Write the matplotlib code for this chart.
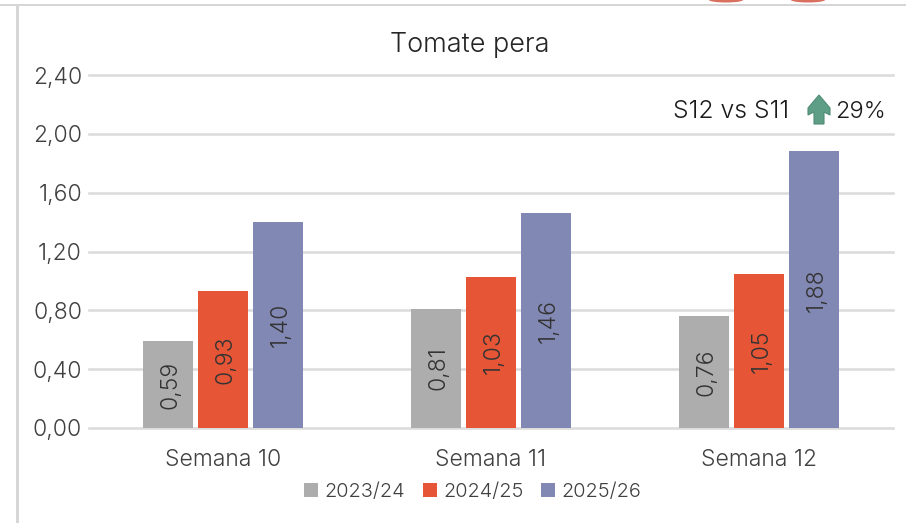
import matplotlib
matplotlib.use("Agg")
import matplotlib.pyplot as plt
import numpy as np
from matplotlib.patches import Polygon, Rectangle, Ellipse

plt.rcParams['font.family'] = ['Inter', 'DejaVu Sans']
plt.rcParams['font.weight'] = 300

weeks = ["Semana 10", "Semana 11", "Semana 12"]
s2324 = [0.59, 0.81, 0.76]
s2425 = [0.93, 1.03, 1.05]
s2526 = [1.40, 1.46, 1.88]
seasons = ["2023/24", "2024/25", "2025/26"]
colors = ["#ADADAD", "#E65535", "#8288B4"]
yticks = [0, 0.4, 0.8, 1.2, 1.6, 2.0, 2.4]

W, H = 906, 523
fig = plt.figure(figsize=(W / 100, H / 100), dpi=100)
ax = fig.add_axes([89 / W, 1 - 428 / H, 804 / W, 353 / H])

x = np.arange(len(weeks))
bw = 50 / 268
step = 55 / 268
for i, vals in enumerate([s2324, s2425, s2526]):
    bars = ax.bar(x + (i - 1) * step, vals, bw, color=colors[i], label=seasons[i], zorder=3)
    for b, v in zip(bars, vals):
        ax.annotate(f"{v:.2f}".replace(".", ","), (b.get_x() + b.get_width() / 2, v / 2),
                    xytext=(2, 0), textcoords="offset points",
                    rotation=90, ha="center", va="center", fontsize=16.5, color="#333333", zorder=4)

ax.set_xlim(-0.5, 2.5)
ax.set_ylim(0, 2.4)
ax.set_yticks(yticks)
ax.set_yticklabels([f"{t:.2f}".replace(".", ",") for t in yticks], fontsize=16.5, color="#404040")
ax.set_xticks(x)
ax.set_xticklabels(weeks, fontsize=16.5, color="#404040")
ax.tick_params(length=0)
ax.tick_params(axis="x", pad=15)
ax.tick_params(axis="y", pad=5)
ax.grid(axis="y", color="#DCDCDC", lw=1.9, zorder=0)
for ln in ax.get_ygridlines():
    ln.set_clip_on(False)
ax.set_axisbelow(True)
for s in ax.spines.values():
    s.set_visible(False)

fig.text(470 / W, 1 - 45 / H, "Tomate pera", ha="center", va="center", fontsize=19.5, color="#262626")
fig.text(673 / W, 1 - 112 / H, "S12 vs S11", ha="left", va="center", fontsize=17.8, color="#1a1a1a")
fig.text(835 / W, 1 - 112 / H, "29%", ha="left", va="center", fontsize=17, color="#1a1a1a")

arrow_x = [819, 808, 808, 814, 814, 824, 824, 830, 830]
arrow_y = [95, 108, 115, 112, 124, 124, 112, 115, 108]
fig.add_artist(Polygon(np.column_stack([np.array(arrow_x) / W, 1 - np.array(arrow_y) / H]),
                       closed=True, transform=fig.transFigure, fc="#5E9E86", ec="#4F8C76", lw=0.8))

# legend
leg = ax.legend(loc="upper center", bbox_to_anchor=(0.4775, -0.127), ncol=3, frameon=False,
                fontsize=14.4, handlelength=0.7, handleheight=0.7, handletextpad=0.3,
                columnspacing=0.9, borderpad=0)
for t in leg.get_texts():
    t.set_color("#404040")

# frame of the screenshot
fig.add_artist(Rectangle((0, 1 - 6 / H), 1, 2 / H, transform=fig.transFigure, fc="#D6D6D6", ec="none"))
fig.add_artist(Rectangle((16 / W, 0), 3 / W, 1 - 6 / H, transform=fig.transFigure, fc="#D6D6D6", ec="none"))
for cx in (726, 808):
    fig.add_artist(Ellipse((cx / W, 1 - 0 / H), 34 / W, 5 / H, transform=fig.transFigure, fc="#D9705F", ec="none"))

fig.savefig("out.png", dpi=100)
